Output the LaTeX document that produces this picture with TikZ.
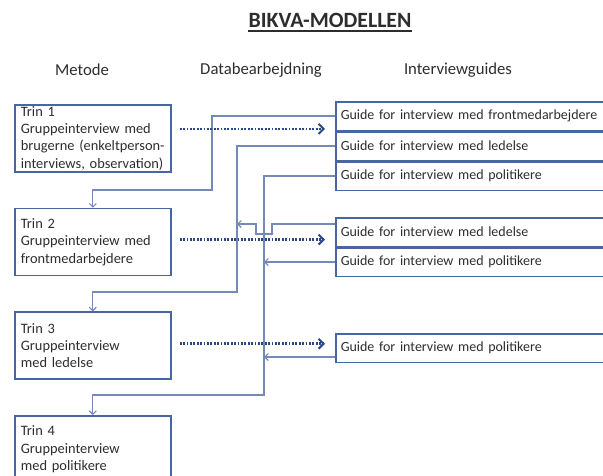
\documentclass[tikz,border=0pt]{standalone}
\usepackage{fontspec}
\setmainfont{Carlito}
\usetikzlibrary{positioning, arrows.meta}
\definecolor{boxblue}{RGB}{72,102,160}
\definecolor{linkblue}{RGB}{118,138,184}
\definecolor{dotblue}{RGB}{44,70,135}
\definecolor{txtgray}{RGB}{45,45,45}
\tikzset{
    trinbox/.style={draw=boxblue, line width=1.7pt, text width=144pt, inner xsep=6pt, inner ysep=0pt,
        minimum height=67pt, align=left, text=txtgray, font=\fontsize{14.4}{17.3}\selectfont},
    guidebox/.style={draw=boxblue, line width=1.5pt, text width=266pt, inner xsep=5pt, inner ysep=0pt,
        minimum height=28.5pt, align=left, text=txtgray, font=\fontsize{14}{17}\selectfont},
    header/.style={text=txtgray, font=\fontsize{16.7}{20}\selectfont},
    link/.style={draw=linkblue, line width=1.1pt, -{Straight Barb[length=3.5pt, width=7pt]}},
    dotarrow/.style={draw=dotblue, line width=2.6pt, dash pattern=on 1.8pt off 1.6pt,
        -{Straight Barb[length=5pt, width=10pt, line width=2pt]}, shorten <=8pt, shorten >=10pt}
}
\begin{document}
\begin{tikzpicture}[x=1pt, y=-1pt]
    \useasboundingbox (0,0) rectangle (603,475);
    \clip (0,0) rectangle (603,475);

    % overskrift
    \node[font=\bfseries\fontsize{21.8}{26}\selectfont, text=txtgray, inner sep=0pt] (title) at (330,20) {BIKVA-MODELLEN};
    \draw[txtgray, line width=1.2pt] ([yshift=-4pt]title.base west) -- ([yshift=-4pt]title.base east);

    \node[header] (hmetode) at (82,70) {Metode};
    \node[header] (hdata) at (261,70) {Databearbejdning};
    \node[header] (hguide) at (458,70) {Interviewguides};

    % metode
    \node[trinbox, anchor=north west] (trin1) at (14,104) {Trin 1\\Gruppeinterview med\\brugerne (enkeltperson-\\interviews, observation)};
    \node[trinbox, below=35pt of trin1] (trin2) {Trin 2\\Gruppeinterview med\\frontmedarbejdere};
    \node[trinbox, below=35pt of trin2] (trin3) {Trin 3\\Gruppeinterview\\med ledelse};
    \node[trinbox, below=35pt of trin3] (trin4) {Trin 4\\Gruppeinterview\\med politikere};

    % interviewguides
    \node[guidebox, anchor=north west] (g1a) at (335,101) {Guide for interview med frontmedarbejdere};
    \node[guidebox, below=0pt of g1a] (g1b) {Guide for interview med ledelse};
    \node[guidebox, below=0pt of g1b] (g1c) {Guide for interview med politikere};
    \node[guidebox, below=26pt of g1c] (g2a) {Guide for interview med ledelse};
    \node[guidebox, below=0pt of g2a] (g2b) {Guide for interview med politikere};
    \node[guidebox, below=56pt of g2b] (g3) {Guide for interview med politikere};

    % tilbage til metode
    \coordinate (laneA) at (212,190);
    \coordinate (laneB) at (237,292);
    \coordinate (laneC) at (264,395);
    \draw[link] (g1a.west) -| (laneA) -| (trin2.north);
    \draw[link] (g1b.west) -| (laneB) -| (trin3.north);
    \draw[link] (g1c.west) -| (laneC) -| (trin4.north);

    \coordinate (h1) at ([yshift=8pt]g2a.west);
    \coordinate (h3) at ([yshift=-9pt]g3.west);
    \draw[link] (h1) -- ++(-63,0) -- ++(0,10) -- ++(-16,0) -- ++(0,-10) -- (h1 -| laneB);
    \draw[link] (g2b.west) -- (g2b.west -| laneC);
    \draw[link] (h3) -- (h3 -| laneC);

    % databearbejdning
    \coordinate (d1) at ([yshift=9.5pt]trin1.east);
    \coordinate (d2) at ([yshift=2.5pt]trin2.east);
    \coordinate (d3) at ([yshift=2pt]trin3.east);
    \draw[dotarrow] (d1) -- (d1 -| g1a.west);
    \draw[dotarrow] (d2) -- (d2 -| g2a.west);
    \draw[dotarrow] (d3) -- (d3 -| g3.west);
    %\node[below] at (d3) {};
\end{tikzpicture}
\end{document}
